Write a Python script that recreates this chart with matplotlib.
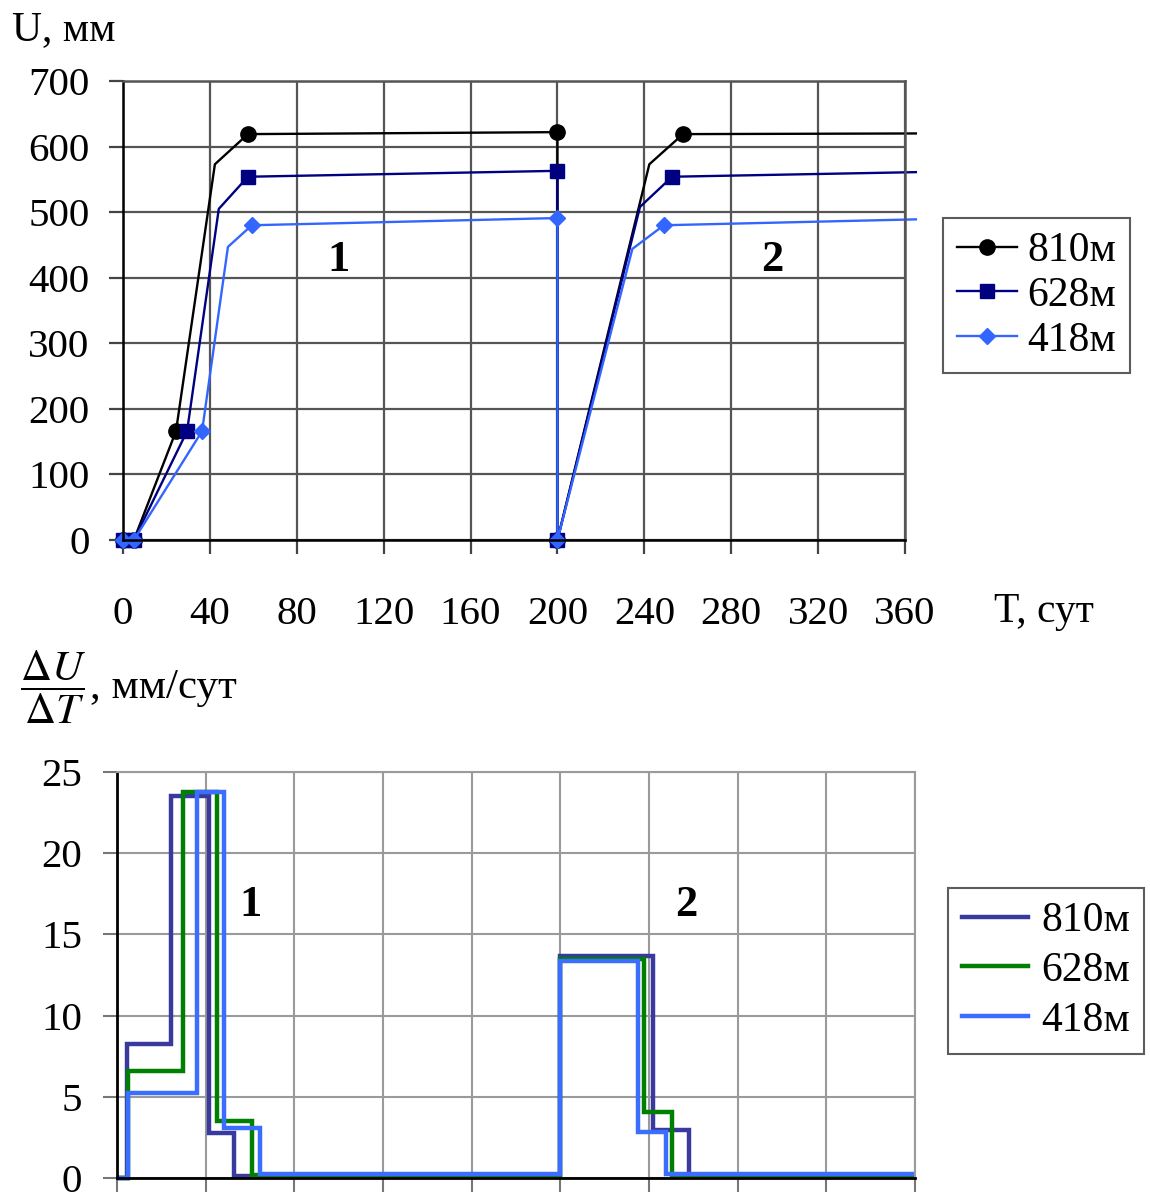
import matplotlib
matplotlib.use("Agg")
import matplotlib.pyplot as plt
from matplotlib.lines import Line2D

plt.rcParams['font.family'] = ['Liberation Serif', 'DejaVu Serif']
plt.rcParams['mathtext.fontset'] = 'stix'

# ---------------- data: top chart (displacement U, mm) ----------------
series_labels = ["810м", "628м", "418м"]
T_810 = [0, 5, 24.4, 42.3, 57.5, 200, 200, 242.3, 257.8, 365]
U_810 = [0, 0, 166, 573, 619, 622, 0, 573, 619, 620]
T_628 = [0, 5, 29.5, 44.1, 57.5, 200, 200, 238.0, 252.8, 365]
U_628 = [0, 0, 166, 505, 554, 563, 0, 508, 554, 561]
T_418 = [0, 5, 36.4, 48.3, 59.3, 200, 200, 234.5, 249.0, 365]
U_418 = [0, 0, 166, 447, 480, 491, 0, 444, 480, 489]

# ---------------- data: bottom chart (rate dU/dT, mm/day) ----------------
E_810 = [0, 4.6, 24.4, 41.7, 53.0, 200, 241.6, 258.1, 360]
R_810 = [0, 8.25, 23.5, 2.8, 0.12, 13.65, 2.95, 0.12]
E_628 = [0, 5.0, 29.9, 45.0, 60.8, 200, 237.6, 250.6, 360]
R_628 = [0, 6.6, 23.75, 3.5, 0.18, 13.5, 4.05, 0.18]
E_418 = [0, 5.0, 36.2, 48.3, 64.5, 200, 234.9, 247.6, 360]
R_418 = [0, 5.25, 23.75, 3.1, 0.25, 13.35, 2.85, 0.25]

x_ticks = [0, 40, 80, 120, 160, 200, 240, 280, 320, 360]
u_ticks = [0, 100, 200, 300, 400, 500, 600, 700]
r_ticks = [0, 5, 10, 15, 20, 25]

W, H = 1150, 1198
fig = plt.figure(figsize=(W / 100, H / 100), dpi=100)

def fx(px):
    return px / W

def fy(py):
    return 1 - py / H

FS_TICK = 29.5
FS = 30
FS_NUM = 32

# ---------------- top axes ----------------
ax1 = fig.add_axes([fx(123), fy(540), (905 - 123) / W, (540 - 81) / H])
ax1.set_xlim(0, 360)
ax1.set_ylim(0, 700)
ax1.set_xticks(x_ticks)
ax1.set_yticks(u_ticks)
ax1.grid(True, color='#555555', lw=1.6)
ax1.set_axisbelow(True)
for s in ['top', 'right']:
    ax1.spines[s].set_color('#555555')
    ax1.spines[s].set_linewidth(1.8)
for s in ['left', 'bottom']:
    ax1.spines[s].set_color('black')
    ax1.spines[s].set_linewidth(1.8)
ax1.tick_params(axis='both', direction='out', length=10, width=1.6,
                color='#444444', labelsize=FS_TICK)
ax1.tick_params(axis='x', pad=30)
ax1.tick_params(axis='y', pad=14)

mk_idx = [0, 1, 2, 4, 5, 6, 8]
top_styles = [
    (T_810, U_810, 'black', 'o', 11),
    (T_628, U_628, '#000080', 's', 10.5),
    (T_418, U_418, '#3366FF', 'D', 8.5),
]
handles1 = []
for (T, U, c, m, ms), lab in zip(top_styles, series_labels):
    ln, = ax1.plot(T, U, color=c, lw=1.7, marker=m, ms=ms, markevery=mk_idx,
                   markeredgecolor=c, markerfacecolor=c, clip_on=False, label=lab)
    handles1.append(ln)

ax1.text(99, 427, "1", fontsize=FS_NUM, fontweight='bold', ha='center', va='center')
ax1.text(299, 427, "2", fontsize=FS_NUM, fontweight='bold', ha='center', va='center')

fig.text(fx(12), fy(40), "U, мм", fontsize=FS, ha='left', va='baseline')
fig.text(fx(994), fy(622), "T, сут", fontsize=FS, ha='left', va='baseline')

leg1 = fig.legend(handles=handles1, loc='upper left',
                  bbox_to_anchor=(fx(943), fy(218)), fontsize=FS,
                  frameon=True, fancybox=False, edgecolor='#333333',
                  handlelength=1.45, handletextpad=0.25, labelspacing=0.15,
                  borderpad=0.33, borderaxespad=0)
leg1.get_frame().set_linewidth(1.5)

# ---------------- bottom axes ----------------
ax2 = fig.add_axes([fx(117), fy(1178), (915 - 117) / W, (1178 - 772) / H])
ax2.set_xlim(0, 360)
ax2.set_ylim(0, 25)
ax2.set_xticks(x_ticks)
ax2.set_xticklabels([])
ax2.set_yticks(r_ticks)
ax2.grid(True, color='#9a9a9a', lw=1.5)
ax2.set_axisbelow(True)
for s in ['top', 'right']:
    ax2.spines[s].set_color('#9a9a9a')
    ax2.spines[s].set_linewidth(1.5)
for s in ['left', 'bottom']:
    ax2.spines[s].set_color('black')
    ax2.spines[s].set_linewidth(2)
ax2.tick_params(axis='both', direction='out', length=10, width=1.5,
                color='#777777', labelsize=FS_TICK)
ax2.tick_params(axis='y', pad=15)

bot_styles = [
    (E_810, R_810, '#3A3A9E'),
    (E_628, R_628, '#008000'),
    (E_418, R_418, '#3B6EFF'),
]
handles2 = []
for (E, R, c), lab in zip(bot_styles, series_labels):
    ax2.stairs(R, E, baseline=None, color=c, lw=3.2, clip_on=False)
    handles2.append(Line2D([], [], color=c, lw=3.2, label=lab))

ax2.text(60.4, 16.8, "1", fontsize=FS_NUM, fontweight='bold', ha='center', va='center')
ax2.text(256.6, 16.8, "2", fontsize=FS_NUM, fontweight='bold', ha='center', va='center')

fig.text(fx(20), fy(687), r"$\dfrac{\Delta U}{\Delta T}$", fontsize=31,
         ha='left', va='center')
fig.text(fx(90), fy(698), ", мм/сут", fontsize=31, ha='left', va='baseline')

leg2 = fig.legend(handles=handles2, loc='upper left',
                  bbox_to_anchor=(fx(948), fy(888)), fontsize=FS,
                  frameon=True, fancybox=False, edgecolor='#333333',
                  handlelength=1.6, handletextpad=0.3, labelspacing=0.27,
                  borderpad=0.33, borderaxespad=0)
leg2.get_frame().set_linewidth(1.5)

fig.savefig("out.png", dpi=100)
